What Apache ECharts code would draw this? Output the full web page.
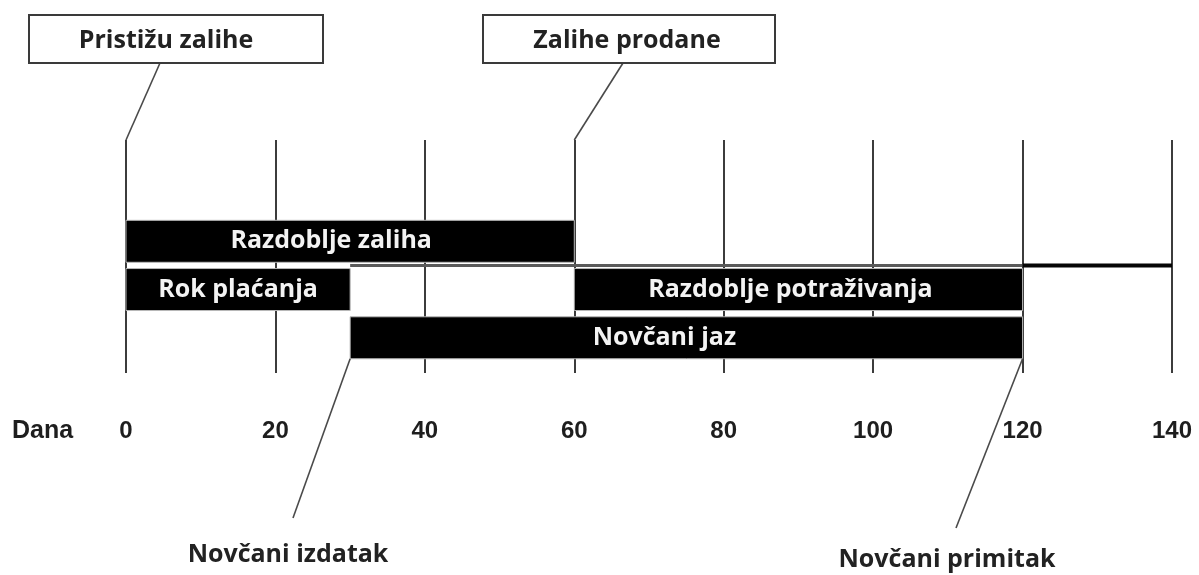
<!DOCTYPE html>
<html>
<head>
<meta charset="utf-8">
<script src="https://cdn.jsdelivr.net/npm/echarts@6/dist/echarts.min.js"></script>
<style>
html,body{margin:0;padding:0;background:#fff;}
#chart{width:1199px;height:575px;}
</style>
</head>
<body>
<div id="chart"></div>
<script>
// ---- data ----
const dayTicks = [0, 20, 40, 60, 80, 100, 120, 140];
const barLabels = ['Razdoblje zaliha', 'Rok plaćanja', 'Razdoblje potraživanja', 'Novčani jaz'];
const barStart = [0, 0, 60, 30];
const barEnd = [60, 30, 120, 120];
const barRow = [1, 2, 2, 3];
const timelineGrey = [30, 120];
const timelineBlack = [120, 140];
const timelineRow = 1.5;
const calloutLabels = ['Pristižu zalihe', 'Zalihe prodane', 'Novčani izdatak', 'Novčani primitak'];
const calloutDay = [0, 60, 30, 120];
const axisName = 'Dana';

// ---- styling / layout (not data) ----
const labelShift = [-19, 0, -8, -22];
const Y_MIN = -1.1, Y_MAX = 3.73, BAR_H = 0.87;
const TEXT_FONT = '"Open Sans", "Noto Sans", sans-serif';

const chart = echarts.init(document.getElementById('chart'));

const barData = barLabels.map((n, i) => [barStart[i], barEnd[i], barRow[i], i]);

const option = {
  backgroundColor: '#ffffff',
  animation: false,
  grid: { left: 126, right: 27, top: 140, bottom: 202 },
  xAxis: {
    type: 'value',
    min: dayTicks[0],
    max: dayTicks[dayTicks.length - 1],
    interval: dayTicks[1] - dayTicks[0],
    axisLine: { show: false },
    axisTick: { show: false },
    splitLine: { show: true, lineStyle: { color: '#3c3c3c', width: 2 } },
    axisLabel: {
      margin: 46,
      color: '#1e1e1e',
      fontFamily: '"Liberation Sans", Arial, sans-serif',
      fontWeight: 'bold',
      fontSize: 24
    }
  },
  yAxis: {
    type: 'value',
    inverse: true,
    min: Y_MIN,
    max: Y_MAX,
    show: false,
    splitLine: { show: false }
  },
  series: [
    {
      type: 'line',
      data: timelineGrey.map(d => [d, timelineRow]),
      symbol: 'none',
      lineStyle: { color: '#5a5a5a', width: 3 },
      z: 2
    },
    {
      type: 'line',
      data: timelineBlack.map(d => [d, timelineRow]),
      symbol: 'none',
      lineStyle: { color: '#050505', width: 4 },
      z: 2
    },
    {
      type: 'custom',
      z: 5,
      data: barData,
      renderItem: function (params, api) {
        const s = api.coord([api.value(0), api.value(2)]);
        const e = api.coord([api.value(1), api.value(2)]);
        const h = api.size([0, BAR_H])[1];
        const idx = api.value(3);
        return {
          type: 'group',
          children: [
            {
              type: 'rect',
              shape: { x: s[0], y: s[1] - h / 2, width: e[0] - s[0], height: h },
              style: { fill: '#000000', stroke: '#b8b8b8', lineWidth: 1 }
            },
            {
              type: 'text',
              style: {
                text: barLabels[idx],
                x: (s[0] + e[0]) / 2 + labelShift[idx],
                y: s[1],
                align: 'center',
                verticalAlign: 'middle',
                fill: '#f3f3f3',
                font: 'bold 25px ' + TEXT_FONT
              }
            }
          ]
        };
      }
    }
  ]
};

chart.setOption(option);

function px(day, yv) { return chart.convertToPixel({ gridIndex: 0 }, [day, yv]); }

const topA = px(calloutDay[0], Y_MIN);
const topB = px(calloutDay[1], Y_MIN);
const botA = px(calloutDay[2], 3 + BAR_H / 2);
const botB = px(calloutDay[3], 3 + BAR_H / 2);

const leaderStyle = { stroke: '#4a4a4a', lineWidth: 1.6 };
const boxStyle = { fill: '#ffffff', stroke: '#3a3a3a', lineWidth: 2 };
const calloutFont = 'bold 25px ' + TEXT_FONT;

chart.setOption({
  graphic: [
    { type: 'text', left: 12, top: 419, style: { text: axisName, fill: '#1e1e1e', font: 'bold 25px "Liberation Sans", Arial, sans-serif' } },
    { type: 'rect', shape: { x: 29, y: 15, width: 294, height: 48 }, style: boxStyle, z: 10 },
    { type: 'text', z: 11, style: { text: calloutLabels[0], x: 166, y: 41, align: 'center', verticalAlign: 'middle', fill: '#222', font: calloutFont } },
    { type: 'line', z: 9, shape: { x1: 160, y1: 63, x2: topA[0], y2: topA[1] }, style: leaderStyle },
    { type: 'rect', shape: { x: 483, y: 15, width: 292, height: 48 }, style: boxStyle, z: 10 },
    { type: 'text', z: 11, style: { text: calloutLabels[1], x: 627, y: 41, align: 'center', verticalAlign: 'middle', fill: '#222', font: calloutFont } },
    { type: 'line', z: 9, shape: { x1: 623, y1: 63, x2: topB[0], y2: topB[1] }, style: leaderStyle },
    { type: 'line', z: 9, shape: { x1: botA[0], y1: botA[1], x2: 293, y2: 518 }, style: leaderStyle },
    { type: 'text', z: 11, style: { text: calloutLabels[2], x: 288, y: 555, align: 'center', verticalAlign: 'middle', fill: '#222', font: calloutFont } },
    { type: 'line', z: 9, shape: { x1: botB[0], y1: botB[1], x2: 956, y2: 528 }, style: leaderStyle },
    { type: 'text', z: 11, style: { text: calloutLabels[3], x: 947, y: 560, align: 'center', verticalAlign: 'middle', fill: '#222', font: calloutFont } }
  ]
});
</script>
</body>
</html>
